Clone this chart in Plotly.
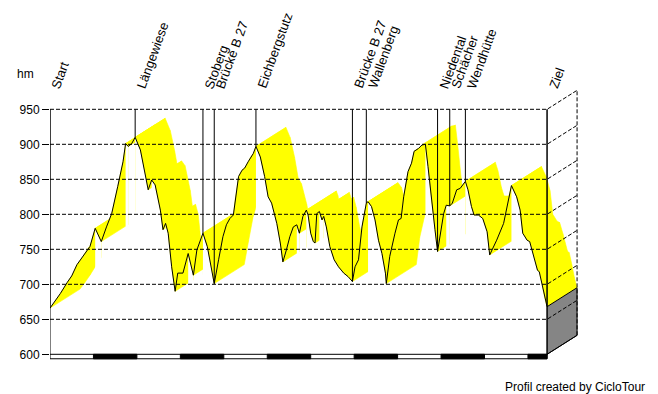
import plotly.graph_objects as go
import numpy as np

# ---------------- data ----------------
dist_km = [0.0, 0.6, 1.2, 2.0, 2.5, 3.1, 3.8, 4.4, 4.6, 5.2, 5.9, 6.5, 7.1, 7.8, 8.4, 8.7, 9.0, 9.4, 9.8,
           10.4, 10.9, 11.3, 11.7, 12.1, 12.7, 13.0, 13.3, 13.6, 14.0, 14.4, 14.7, 15.3, 15.9, 16.5, 16.9,
           17.6, 18.1, 18.4, 18.9, 19.4, 19.9, 20.3, 20.7, 21.1, 21.3, 21.7, 22.1, 22.4, 22.8, 23.1, 23.4,
           23.7, 24.2, 24.7, 25.1, 25.5, 26.1, 26.5, 26.8, 27.2, 27.6, 28.0, 28.4, 28.7, 29.1, 29.5, 29.7,
           30.0, 30.3, 30.5, 30.7, 31.0, 31.3, 31.5, 31.8, 32.2, 32.7, 33.2, 33.8, 34.3, 34.8, 35.1, 35.5,
           35.9, 36.4, 36.6, 37.0, 37.4, 37.8, 38.2, 38.6, 38.7, 39.1, 39.7, 40.1, 40.4, 40.7, 41.2, 41.6,
           41.9, 42.4, 42.8, 43.2, 43.5, 43.9, 44.3, 44.6, 44.9, 45.3, 45.6, 46.0, 46.3, 46.8, 47.2, 47.6,
           47.8, 48.1, 48.5, 48.8, 49.3, 49.8, 50.3, 50.6, 51.4, 52.2, 52.7, 53.1, 53.7, 54.1, 54.4, 54.9,
           55.2, 55.6, 56.1, 56.3, 56.6, 56.9, 57.2]
elev_m = [666, 676, 687, 703, 712, 728, 740, 752, 754, 780, 761, 782, 801, 840, 875, 901, 897, 901, 910,
          892, 863, 835, 849, 842, 806, 778, 787, 773, 725, 690, 716, 716, 744, 713, 749,
          773, 754, 735, 701, 735, 768, 785, 794, 799, 820, 854, 863, 866, 875, 882, 887,
          897, 882, 854, 825, 816, 787, 759, 732, 749, 768, 782, 785, 773, 797, 806, 799,
          773, 761, 759, 801, 804, 792, 797, 782, 754, 735, 725, 716, 711, 704, 725, 735,
          782, 816, 818, 811, 792, 763, 744, 716, 701, 740, 773, 792, 794, 825, 861, 873,
          890, 894, 899, 900, 868, 820, 778, 747, 773, 801, 813, 812, 816, 835, 837, 844,
          847, 835, 811, 799, 799, 794, 775, 742, 763, 787, 820, 841, 825, 806, 773, 763,
          761, 744, 720, 718, 701, 682, 668]

wp_names = ["Start", "Längewiese", "Stoberg", "Brücke B 27", "Eichbergstutz", "Brücke B 27",
            "Wallenberg", "Niedental", "Schächer", "Wendhütte", "Ziel"]
wp_km = [0.0, 9.8, 17.6, 18.9, 23.7, 34.8, 36.4, 44.6, 46.0, 47.8, 57.2]

y_ticks = [600, 650, 700, 750, 800, 850, 900, 950]
y_ticklabels = ["600", "650", "700", "750", "800", "850", "900", "950"]
scale_step_km = 5

# ---------------- geometry ----------------
OFF = 8                     # page body margin in the browser
PX_PER_KM = 8.69
PX_PER_M = 0.7
W, H = 658, 394
ML, MT = 50 - OFF, 80 - OFF
plot_w, plot_h = 550, 280
MR = W - ML - plot_w
MB = H - MT - plot_h
x_range = [0, plot_w / PX_PER_KM]
y_top = 950 + (109.3 - 80) / PX_PER_M
y_range = [y_top - plot_h / PX_PER_M, y_top]

DX = 30 / PX_PER_KM      # depth offset in km
DZ = 19 / PX_PER_M       # depth offset in m

d = np.array(dist_km, float)
e = np.array(elev_m, float)
n = len(d)
D = d[-1]
ybase = y_ticks[0]
ytopg = y_ticks[-1]
FONT = "Arial, Liberation Sans, sans-serif"

fig = go.Figure()

# ---- split the profile into monotone runs ----
bounds = [0]
prev = 0
for i in range(1, n):
    s = np.sign(e[i] - e[i - 1])
    if s == 0:
        continue
    if prev != 0 and s != prev:
        bounds.append(i - 1)
    prev = s
bounds.append(n - 1)

# ---- draw runs back-to-front: white wall, then yellow top surface ----
for a, b in zip(bounds[:-1], bounds[1:]):
    wx = list(d[a:b + 1]) + [d[b], d[a], d[a]]
    wy = list(e[a:b + 1]) + [ybase, ybase, e[a]]
    fig.add_trace(go.Scatter(x=wx, y=wy, fill="toself", fillcolor="white", mode="lines",
                             line=dict(width=0), hoverinfo="skip", showlegend=False))
    qx, qy = [], []
    for k in range(a, b):
        px = [d[k], d[k + 1], d[k + 1] + DX, d[k] + DX]
        py = [e[k], e[k + 1], e[k + 1] + DZ, e[k] + DZ]
        area = sum(px[j] * py[(j + 1) % 4] - px[(j + 1) % 4] * py[j] for j in range(4))
        if area < 0:
            px, py = px[::-1], py[::-1]
        qx += px + [px[0], None]
        qy += py + [py[0], None]
    fig.add_trace(go.Scatter(x=qx, y=qy, fill="toself", fillcolor="#ffff00", mode="lines",
                             line=dict(width=0.6, color="#ffff00"), connectgaps=False,
                             hoverinfo="skip", showlegend=False))

# grey end face
fig.add_trace(go.Scatter(
    x=[D, D, D + DX, D + DX, D], y=[ybase, e[-1], e[-1] + DZ, ybase + DZ, ybase],
    fill="toself", fillcolor="#858585", mode="lines", line=dict(color="black", width=1),
    hoverinfo="skip", showlegend=False))

# dashed grid lines with receding part
gx, gy = [], []
for g in y_ticks[1:]:
    gx += [0, D, D + DX, None]
    gy += [g, g, g + DZ, None]
gx += [D + DX, D + DX]
gy += [ybase + DZ, ytopg + DZ]
fig.add_trace(go.Scatter(x=gx, y=gy, mode="lines",
                         line=dict(color="black", width=1, dash="4px,2px"),
                         hoverinfo="skip", showlegend=False))

# frame lines (left axis, right front edge, bottom receding edge)
fig.add_trace(go.Scatter(x=[0, 0, None, D, D, None, D, D + DX],
                         y=[ybase - 1, ytopg, None, ybase - 1, ytopg, None, ybase, ybase + DZ],
                         mode="lines", line=dict(color="black", width=1),
                         hoverinfo="skip", showlegend=False))

# waypoint lines
wx, wy = [], []
for k in wp_km:
    wx += [k, k, None]
    wy += [float(np.interp(k, d, e)), ytopg, None]
fig.add_trace(go.Scatter(x=wx, y=wy, mode="lines", line=dict(color="black", width=1),
                         hoverinfo="skip", showlegend=False))

# profile line
fig.add_trace(go.Scatter(x=d, y=e, mode="lines", line=dict(color="black", width=1),
                         hoverinfo="skip", showlegend=False))

# distance scale bar
bar_h = 6.4
shapes = [dict(type="rect", xref="x", yref="y", x0=0, x1=D, y0=ybase - bar_h, y1=ybase,
               fillcolor="white", line=dict(color="black", width=1), layer="above")]
s = 0.0
i = 0
while s < D - 1e-9:
    s1 = min(s + scale_step_km, D)
    if i % 2 == 1:
        shapes.append(dict(type="rect", xref="x", yref="y", x0=s, x1=s1, y0=ybase - bar_h, y1=ybase,
                           fillcolor="black", line=dict(color="black", width=1), layer="above"))
    s = s1
    i += 1

# annotations
ann = []
label_y = 950 + (109.3 - 93) / PX_PER_M
for name, k in zip(wp_names, wp_km):
    ann.append(dict(x=k, y=label_y, xref="x", yref="y", text=name, showarrow=False,
                    textangle=-70, xanchor="left", yanchor="bottom", xshift=-4,
                    font=dict(family=FONT, size=13, color="black")))
ann.append(dict(x=(26 - OFF - ML) / plot_w, y=(MT + plot_h - (74 - OFF)) / plot_h,
                xref="paper", yref="paper", text="hm", showarrow=False,
                xanchor="center", yanchor="middle", font=dict(family=FONT, size=12, color="black")))
ann.append(dict(x=(647 - OFF - ML) / plot_w, y=(MT + plot_h - (387 - OFF)) / plot_h,
                xref="paper", yref="paper", text="Profil created by CicloTour", showarrow=False,
                xanchor="right", yanchor="middle", font=dict(family=FONT, size=12, color="black")))

fig.update_layout(
    width=W, height=H, margin=dict(l=ML, r=MR, t=MT, b=MB, autoexpand=False),
    paper_bgcolor="white", plot_bgcolor="white", showlegend=False,
    shapes=shapes, annotations=ann,
    xaxis=dict(range=x_range, visible=False, fixedrange=True),
    yaxis=dict(range=y_range, tickvals=y_ticks, ticktext=y_ticklabels, ticks="outside",
               ticklen=7, tickcolor="black", tickwidth=1, showgrid=False, zeroline=False,
               showline=False, tickfont=dict(family=FONT, size=12, color="black"),
               fixedrange=True),
)

fig.write_html("out.html")
